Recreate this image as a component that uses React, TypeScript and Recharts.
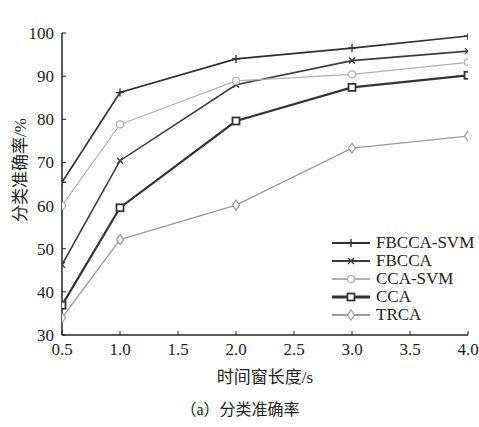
import React from "react";
import { LineChart, Line, XAxis, YAxis } from "recharts";

const times = [0.5, 1.0, 2.0, 3.0, 4.0];
const fbccaSvm = [65.4, 86.2, 94.0, 96.5, 99.3];
const fbcca = [46.3, 70.4, 88.0, 93.6, 95.8];
const ccaSvm = [60.0, 78.8, 88.9, 90.4, 93.2];
const cca = [36.9, 59.5, 79.6, 87.4, 90.2];
const trca = [34.0, 52.1, 60.1, 73.3, 76.1];
const xTicks = [0.5, 1.0, 1.5, 2.0, 2.5, 3.0, 3.5, 4.0];
const yTicks = [30, 40, 50, 60, 70, 80, 90, 100];

const data = times.map((t, i) => ({
  t,
  fbccaSvm: fbccaSvm[i],
  fbcca: fbcca[i],
  ccaSvm: ccaSvm[i],
  cca: cca[i],
  trca: trca[i],
}));

type Shape = "plus" | "x" | "circle" | "square" | "diamond";

const series: { key: string; name: string; color: string; width: number; shape: Shape }[] = [
  { key: "fbccaSvm", name: "FBCCA-SVM", color: "#2f2f2f", width: 1.6, shape: "plus" },
  { key: "fbcca", name: "FBCCA", color: "#3a3a3a", width: 1.6, shape: "x" },
  { key: "ccaSvm", name: "CCA-SVM", color: "#b0b0b0", width: 1.2, shape: "circle" },
  { key: "cca", name: "CCA", color: "#333333", width: 2.2, shape: "square" },
  { key: "trca", name: "TRCA", color: "#9a9a9a", width: 1.3, shape: "diamond" },
];

function Marker({ cx, cy, shape, color }: { cx: number; cy: number; shape: Shape; color: string }) {
  const s = 4;
  switch (shape) {
    case "plus":
      return (
        <g stroke={color} strokeWidth={1.4}>
          <line x1={cx - s} y1={cy} x2={cx + s} y2={cy} />
          <line x1={cx} y1={cy - s} x2={cx} y2={cy + s} />
        </g>
      );
    case "x":
      return (
        <g stroke={color} strokeWidth={1.4}>
          <line x1={cx - 3} y1={cy - 3} x2={cx + 3} y2={cy + 3} />
          <line x1={cx - 3} y1={cy + 3} x2={cx + 3} y2={cy - 3} />
        </g>
      );
    case "circle":
      return <circle cx={cx} cy={cy} r={3.5} fill="#fff" stroke={color} strokeWidth={1.2} />;
    case "square":
      return <rect x={cx - 3.5} y={cy - 3.5} width={7} height={7} fill="#fff" stroke={color} strokeWidth={1.8} />;
    case "diamond":
      return (
        <polygon
          points={`${cx},${cy - 5} ${cx + 3.5},${cy} ${cx},${cy + 5} ${cx - 3.5},${cy}`}
          fill="#fff"
          stroke={color}
          strokeWidth={1.2}
        />
      );
  }
  return null;
}

const makeDot = (shape: Shape, color: string) => (props: any) => {
  const { cx, cy, index } = props;
  if (cx == null || cy == null) return <g key={index} />;
  return <Marker key={index} cx={cx} cy={cy} shape={shape} color={color} />;
};

const serif = "'Liberation Serif', 'Times New Roman', serif";
const cjk = "'Liberation Serif', 'Noto Sans CJK SC', serif";
const tickStyle = { fontFamily: serif, fontSize: 17, fill: "#222" };

export default function App() {
  return (
    <div style={{ position: "absolute", left: 0, top: 0, width: 479, height: 427, background: "#fff" }}>
      <LineChart width={479} height={427} data={data} margin={{ top: 33, right: 11, left: 0, bottom: 0 }}>
        <XAxis
          dataKey="t"
          type="number"
          domain={[0.5, 4]}
          ticks={xTicks}
          tickFormatter={(v: number) => v.toFixed(1)}
          height={92}
          tickSize={-4}
          tickMargin={12}
          tick={tickStyle}
          axisLine={{ stroke: "#222", strokeWidth: 1.5 }}
          tickLine={{ stroke: "#222" }}
          allowDataOverflow
        />
        <YAxis
          type="number"
          domain={[30, 100]}
          ticks={yTicks}
          width={62}
          tickSize={-4}
          tickMargin={12}
          tick={tickStyle}
          axisLine={{ stroke: "#222", strokeWidth: 1.5 }}
          tickLine={{ stroke: "#222" }}
          allowDataOverflow
        />
        {series.map((s) => (
          <Line
            key={s.key}
            dataKey={s.key}
            name={s.name}
            stroke={s.color}
            strokeWidth={s.width}
            dot={makeDot(s.shape, s.color)}
            isAnimationActive={false}
            type="linear"
          />
        ))}
      </LineChart>
      <div
        style={{
          position: "absolute",
          left: 331,
          top: 234,
          fontFamily: serif,
          fontSize: 17,
          color: "#222",
        }}
      >
        {series.map((s) => (
          <div key={s.key} style={{ display: "flex", alignItems: "center", height: 18 }}>
            <svg width={40} height={18}>
              <line x1={1} y1={9} x2={39} y2={9} stroke={s.color} strokeWidth={s.width + 0.6} />
              <Marker cx={20} cy={9} shape={s.shape} color={s.color} />
            </svg>
            <span style={{ marginLeft: 5, lineHeight: "18px", whiteSpace: "nowrap" }}>{s.name}</span>
          </div>
        ))}
      </div>
      <div
        style={{
          position: "absolute",
          left: 18,
          top: 170,
          transform: "translate(-50%, -50%) rotate(-90deg)",
          whiteSpace: "nowrap",
          fontFamily: cjk,
          fontSize: 17,
          color: "#222",
        }}
      >
        分类准确率/%
      </div>
      <div
        style={{
          position: "absolute",
          left: 265,
          top: 375,
          transform: "translate(-50%, -50%)",
          whiteSpace: "nowrap",
          fontFamily: cjk,
          fontSize: 17,
          color: "#222",
        }}
      >
        时间窗长度/s
      </div>
      <div
        style={{
          position: "absolute",
          left: 240,
          top: 408,
          transform: "translate(-50%, -50%)",
          whiteSpace: "nowrap",
          fontFamily: cjk,
          fontSize: 16,
          color: "#222",
        }}
      >
        （a）分类准确率
      </div>
    </div>
  );
}
